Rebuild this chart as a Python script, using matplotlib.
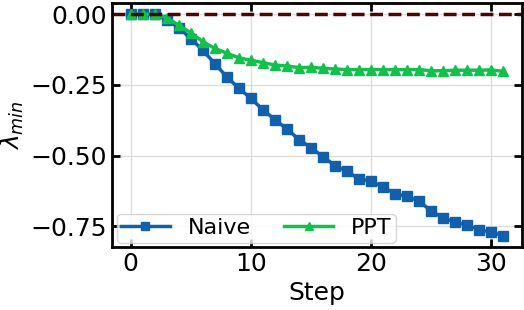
import matplotlib
matplotlib.use("Agg")
import matplotlib.pyplot as plt

steps = list(range(32))

naive = [0.0, 0.0, 0.0, -0.019, -0.048, -0.086, -0.128, -0.175, -0.222, -0.262,
         -0.298, -0.338, -0.373, -0.406, -0.443, -0.472, -0.504, -0.535, -0.556, -0.582,
         -0.590, -0.611, -0.635, -0.644, -0.661, -0.696, -0.720, -0.735, -0.746, -0.762,
         -0.770, -0.784]

ppt = [0.0, 0.0, 0.0, -0.013, -0.039, -0.066, -0.097, -0.121, -0.138, -0.154,
       -0.163, -0.171, -0.180, -0.183, -0.189, -0.188, -0.191, -0.194, -0.196, -0.196,
       -0.196, -0.196, -0.196, -0.196, -0.196, -0.200, -0.200, -0.198, -0.198, -0.198,
       -0.197, -0.202]

plt.rcParams['font.family'] = ['DejaVu Sans']

fig, ax = plt.subplots(figsize=(5.24, 3.10), dpi=100)
fig.subplots_adjust(left=0.214, right=0.996, top=0.99, bottom=0.203)

ax.plot(steps, naive, color='#1260ac', marker='s', markersize=7, linewidth=2.5, label='Naive')
ax.plot(steps, ppt, color='#12c04c', marker='^', markersize=7, linewidth=2.5, label='PPT')
ax.axhline(0, color='#4a0505', linestyle='--', linewidth=2.5)

ax.set_xlabel('Step', fontsize=18)
ax.set_ylabel(r'$\lambda_{min}$', fontsize=18)
ax.yaxis.set_label_coords(-0.21, 0.5)
ax.set_xticks([0, 10, 20, 30])
ax.set_yticks([0.0, -0.25, -0.5, -0.75])
ax.tick_params(direction='in', top=True, right=True, labelsize=18, width=2, length=6)
ax.grid(True, color='#dddddd', linewidth=1)
for s in ax.spines.values():
    s.set_linewidth(2)

ax.legend(loc='lower left', ncol=2, fontsize=16, handlelength=2.2,
          borderaxespad=0.2, columnspacing=1.5, handletextpad=0.8,
          borderpad=0.2, markerscale=0.8)

fig.savefig('out.png', dpi=100)
